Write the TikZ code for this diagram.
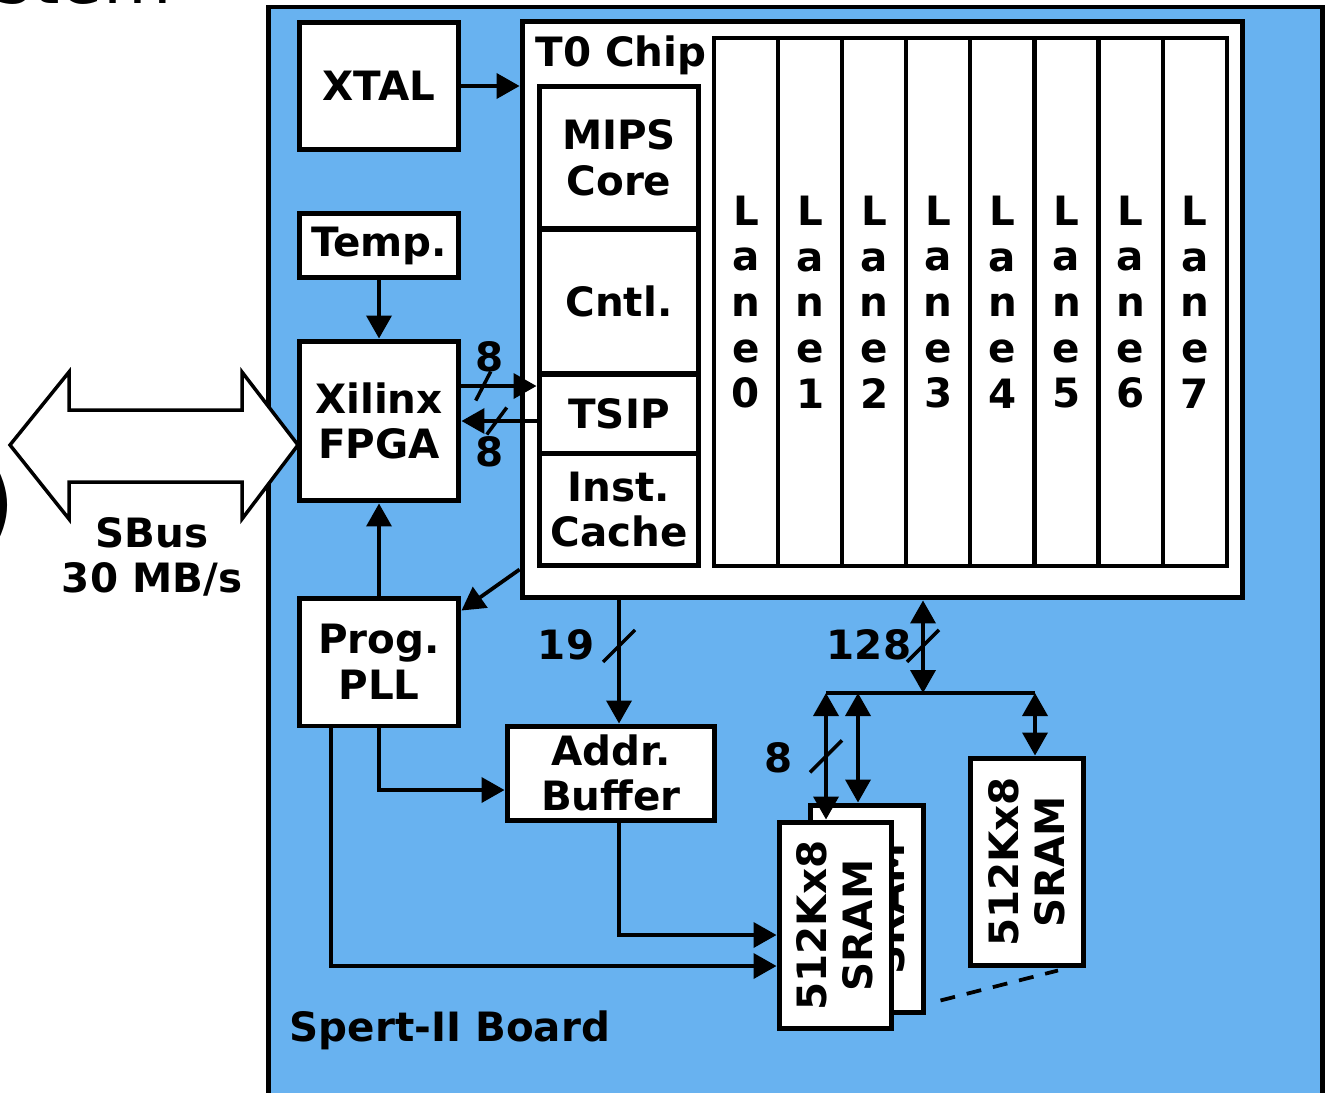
\documentclass[tikz,border=0pt]{standalone}
\usepackage{fontspec}
\setmainfont{DejaVu Sans}
\usetikzlibrary{arrows.meta}
\definecolor{boardblue}{RGB}{104,178,240}

\providecommand{\blkfont}{\fontsize{23}{26}\selectfont\bfseries}
\tikzset{
  blk/.style={draw, fill=white, line width=1mm, inner sep=0, align=center, font=\blkfont},
  lane/.style={blk, line width=0.85mm, minimum width=1.282cm, minimum height=10.56cm},
  wire/.style={line width=0.75mm},
  slash/.style={line width=0.7mm},
  lbl/.style={font=\blkfont, inner sep=0, align=center}
}

\begin{document}
\begin{tikzpicture}[x=0.02cm,y=-0.02cm,>={Triangle[length=4.6mm,width=5mm]}]
    \useasboundingbox (0,0) rectangle (1334,1092);
    % cut-off bits of the slide
    \node[font=\fontsize{40}{40}\selectfont, anchor=base east, inner sep=0] (titlefrag) at (172,4) {stem};
    \node[font=\fontsize{60}{60}\selectfont, anchor=east, inner sep=0] (parenfrag) at (17,505) {)};
    % board
    \draw[fill=boardblue, line width=1mm] (268,7) rectangle (1322,1130);
    \node[lbl] (boardlbl) at (450,1030) {Spert-II Board};
    % SBus
    \draw[fill=white, line width=0.7mm] (10,445) -- (69,372) -- (69,410) -- (242,410) -- (242,372) -- (298,445)
        -- (242,519) -- (242,482) -- (69,482) -- (69,519) -- cycle;
    \node[lbl] (sbus) at (152,557) {SBus\\30 MB/s};
    % left column
    \node[blk, minimum width=3.2cm, minimum height=2.56cm] (xtal) at (379,86) {XTAL};
    \node[blk, minimum width=3.2cm, minimum height=1.3cm] (temp) at (379,245.5) {Temp.};
    \node[blk, minimum width=3.2cm, minimum height=3.2cm] (fpga) at (379,421) {Xilinx\\FPGA};
    \node[blk, minimum width=3.2cm, minimum height=2.56cm] (pll) at (379,662) {Prog.\\PLL};
    % T0 chip
    \node[blk, minimum width=14.42cm, minimum height=11.54cm] (chip) at (882.5,309.5) {};
    \node[lbl] (chiplbl) at (621,55) {T0 Chip};
    \node[blk, minimum width=3.2cm, minimum height=2.86cm] (mips) at (619,157.5) {MIPS\\Core};
    \node[blk, minimum width=3.2cm, minimum height=2.9cm] (cntl) at (619,301.5) {Cntl.};
    \node[blk, minimum width=3.2cm, minimum height=1.58cm] (tsip) at (619,413.5) {TSIP};
    \node[blk, minimum width=3.2cm, minimum height=2.26cm] (icache) at (619,509.5) {Inst.\\Cache};
    \foreach \i in {0,...,7}
        \node[lane] (lane\i) at (746+64.1*\i,302) {L\\a\\n\\e\\\i};
    % memory side
    \node[blk, minimum width=4.16cm, minimum height=1.88cm] (addr) at (611,773) {Addr.\\Buffer};
    \node[blk, minimum width=2.26cm, minimum height=4.16cm] (sramB) at (866.5,909) {};
    \node[lbl, rotate=90] (sramBtxt) at (sramB) {512Kx8\\SRAM};
    \node[blk, minimum width=2.24cm, minimum height=4.14cm] (sramA) at (835,925.5) {};
    \node[lbl, rotate=90] (sramAtxt) at (sramA) {512Kx8\\SRAM};
    \node[blk, minimum width=2.26cm, minimum height=4.16cm] (sramC) at (1026.5,862) {};
    \node[lbl, rotate=90] (sramCtxt) at (sramC) {512Kx8\\SRAM};
    \draw[wire, dash pattern=on 3mm off 2.4mm] ([shift={(15,-15)}]sramB.south east) -- ([shift={(31.5,2)}]sramC.south);

    % connections
    \draw[wire,->] (xtal.east) -- (xtal.east -| chip.west);
    \draw[wire,->] (temp.south) -- (fpga.north);
    \draw[wire,->] (pll.north) -- (fpga.south);
    \coordinate (fpgaout) at ([yshift=0.7cm]fpga.east);
    \draw[wire,->] (fpgaout) -- coordinate[pos=0.29] (s8a) (fpgaout -| tsip.west);
    \draw[wire,->] (fpga.east -| tsip.west) -- coordinate[pos=0.53] (s8b) (fpga.east);
    \draw[slash] (s8a) +(-7.5,14.5) -- +(7.5,-14.5);
    \draw[slash] (s8b) +(-10,13.5) -- +(10,-13.5);
    \node[lbl] (lbl8a) at (490,357) {8};
    \node[lbl] (lbl8b) at (490,452) {8};
    \draw[wire,->] ([yshift=0.62cm]chip.south west) -- ([yshift=-0.3cm]pll.north east);
    \draw[wire,->] (chip.south -| mips) -- coordinate[pos=0.37] (s19) (addr.north -| mips);
    \draw[slash] (s19) +(-16,16) -- +(16,-16);
    \node[lbl] (lbl19) at (566,645) {19};
    \draw[wire,->] (pll.south) |- ([yshift=-0.34cm]addr.west);
    \draw[wire,->] ([xshift=-0.96cm]pll.south) |- ([yshift=-0.81cm]sramA.west);
    \draw[wire,->] (addr.south -| mips) |- ([yshift=-0.19cm]sramA.west);
    % data bus
    \coordinate (busM) at (923,693);
    \coordinate (busL) at (826,693);
    \coordinate (busR) at (1035,693);
    \draw[wire] (busL) -- (busR);
    \draw[wire,<->] (chip.south -| busM) -- coordinate[pos=0.49] (s128) (busM);
    \draw[slash] (s128) +(-16,16) -- +(16,-16);
    \node[lbl] (lbl128) at (869,645) {128};
    \draw[wire,<->] (busL) -- coordinate[pos=0.5] (s8c) (busL |- sramA.north);
    \draw[slash] (s8c) +(-16,16) -- +(16,-16);
    \node[lbl] (lbl8c) at (779,758) {8};
    \draw[wire,<->] (busL -| sramB.north) ++(-8.5,0) coordinate (busB) -- (busB |- sramB.north);
    \draw[wire,<->] (busR) -- (busR |- sramC.north);
\end{tikzpicture}
\end{document}
